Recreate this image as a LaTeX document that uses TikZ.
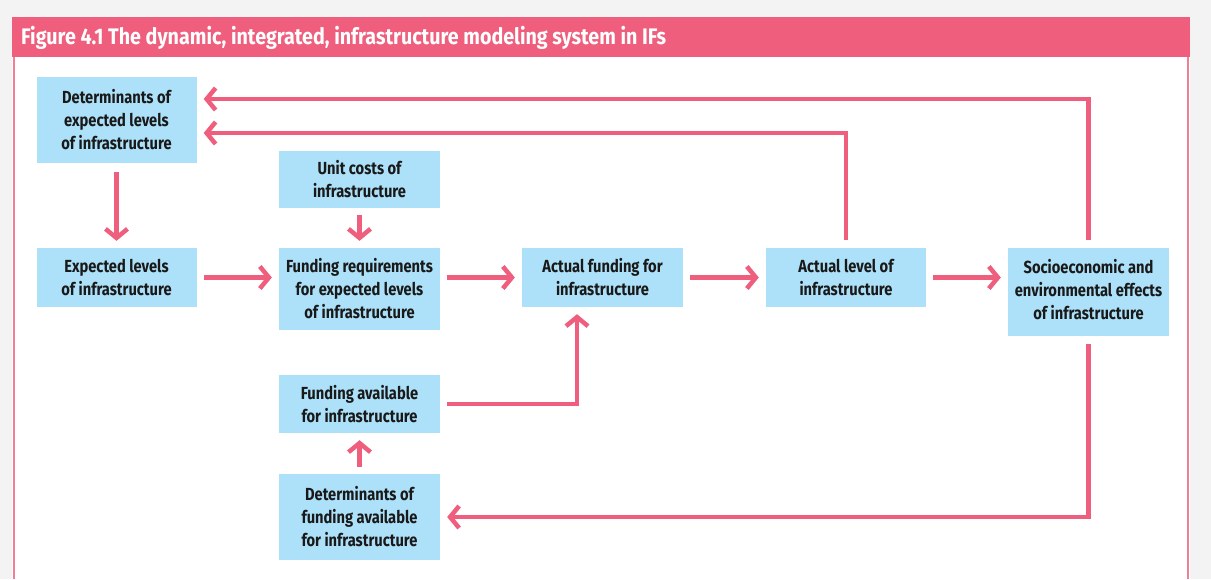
\documentclass[tikz,border=0pt]{standalone}
\usepackage{fontspec}
\setmainfont{Fira Sans}[FakeStretch=0.84]
\newfontfamily\titlefont{Fira Sans}[FakeStretch=0.875]
\usetikzlibrary{arrows.meta,calc}
\definecolor{ifpink}{RGB}{239,94,124}
\definecolor{ifblue}{RGB}{173,225,249}
\definecolor{outbg}{RGB}{243,243,243}
\definecolor{txt}{RGB}{25,25,25}
\tikzset{
  box/.style={fill=ifblue, inner sep=0pt, align=center, text=txt,
    font=\bfseries\fontsize{17.5}{23}\selectfont},
  arr/.style={draw=ifpink, line width=4.5pt,
    -{Straight Barb[length=9pt,width=22pt,line width=4.5pt]}},
}
\begin{document}
\begin{tikzpicture}[x=1pt,y=-1pt]
\useasboundingbox (0,0) rectangle (1211,579);
\fill[outbg] (0,0) rectangle (1211,579);
\fill[white] (12,17) rectangle (1190,579);
\fill[ifpink] (12,17) rectangle (1190,57);
\draw[ifpink!80, line width=2pt] (14,57) -- (14,579);
\draw[ifpink!80, line width=2pt] (1188,57) -- (1188,579);
\node[anchor=west, text=white, font=\titlefont\bfseries\fontsize{22.5}{26}\selectfont, inner sep=0pt] (title) at (21,38)
  {Figure 4.1 The dynamic, integrated, infrastructure modeling system in IFs};

\node[box, minimum width=160pt, minimum height=86pt] (detexp) at (116.5,120) {Determinants of\\expected levels\\of infrastructure};
\node[box, minimum width=160pt, minimum height=59pt] (explev) at (116.5,277.5) {Expected levels\\of infrastructure};
\node[box, minimum width=161pt, minimum height=57pt] (unit) at (359.5,179.5) {Unit costs of\\infrastructure};
\node[box, minimum width=161pt, minimum height=82pt] (fundreq) at (359.5,289) {Funding requirements\\for expected levels\\of infrastructure};
\node[box, minimum width=161pt, minimum height=59pt] (actfund) at (602.5,277.5) {Actual funding for\\infrastructure};
\node[box, minimum width=160pt, minimum height=59pt] (actlev) at (846,277.5) {Actual level of\\infrastructure};
\node[box, minimum width=161pt, minimum height=88pt] (socio) at (1088.5,292) {Socioeconomic and\\environmental effects\\of infrastructure\\[-17pt]\mbox{}};
\node[box, minimum width=161pt, minimum height=58pt] (fundavail) at (359.5,404) {Funding available\\for infrastructure};
\node[box, minimum width=161pt, minimum height=86pt] (detfund) at (359.5,517) {Determinants of\\funding available\\for infrastructure};

\coordinate (ytop) at (0,99);
\coordinate (ymid) at (0,133);
\coordinate (yfa) at (0,404);
\coordinate (xfa) at (577,0);

\draw[arr] ($(detexp.south)+(0,9)$) -- ($(explev.north)+(0,-7)$);
\draw[arr] ($(unit.south)+(0,7)$) -- ($(fundreq.north)+(0,-7)$);
\draw[arr] ($(explev.east)+(7,0)$) -- ($(fundreq.west |- explev.east)+(-7,0)$);
\draw[arr] ($(fundreq.east |- explev.east)+(7,0)$) -- ($(actfund.west)+(-7,0)$);
\draw[arr] ($(actfund.east)+(7,0)$) -- ($(actlev.west)+(-7,0)$);
\draw[arr] ($(actlev.east)+(7,0)$) -- ($(socio.west |- actlev.east)+(-7,0)$);
\draw[arr] ($(socio.north)+(0,-8)$) |- ($(detexp.east |- ytop)+(7,0)$);
\draw[arr] ($(actlev.north)+(0,-8)$) |- ($(detexp.east |- ymid)+(7,0)$);
\draw[arr] ($(fundavail.east |- yfa)+(7,0)$) -| ($(xfa |- actfund.south)+(0,7)$);
\draw[arr] ($(detfund.north)+(0,-7)$) -- ($(fundavail.south)+(0,7)$);
\draw[arr] ($(socio.south)+(0,8)$) |- ($(detfund.east)+(7,0)$);
\end{tikzpicture}
\end{document}
